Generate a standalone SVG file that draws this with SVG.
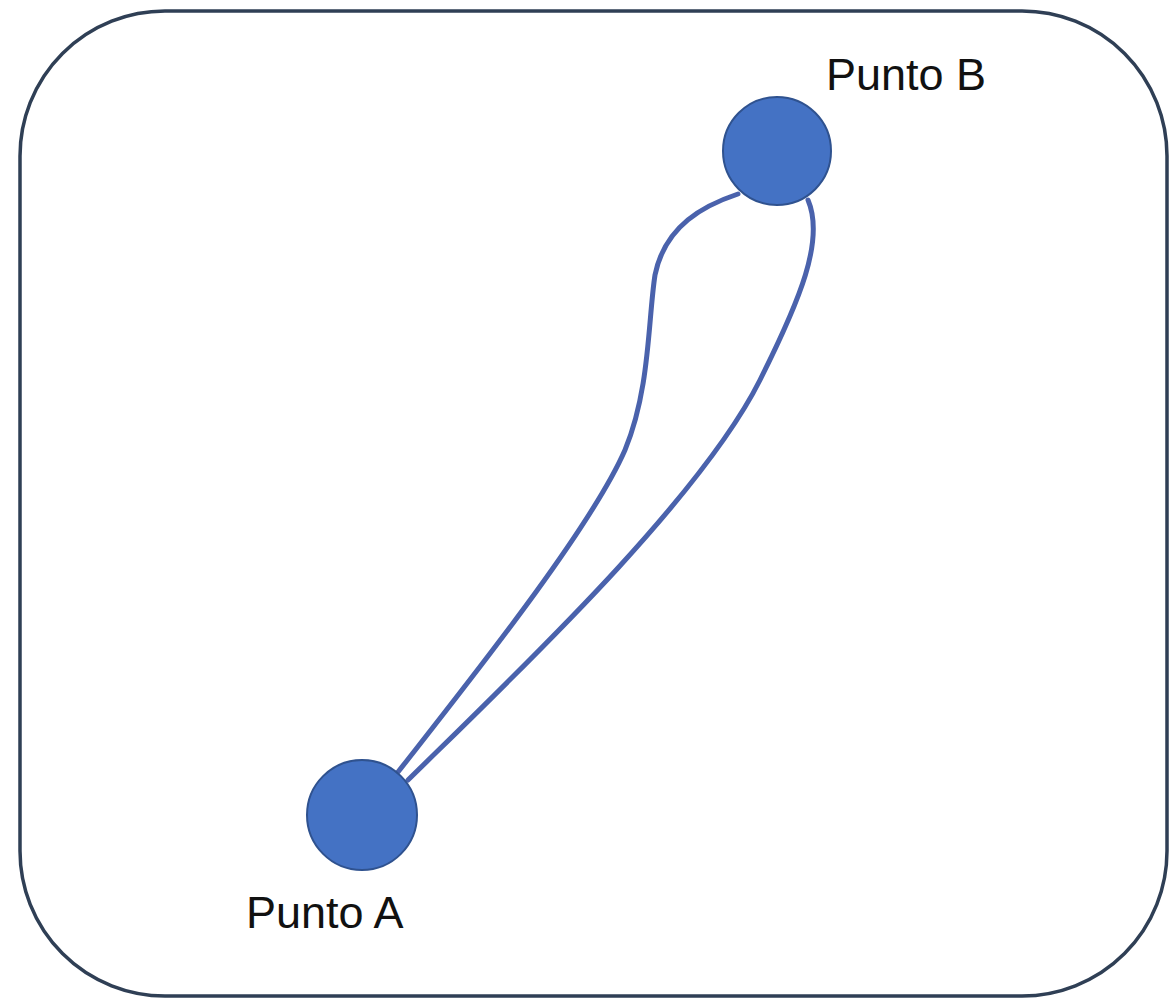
<svg xmlns="http://www.w3.org/2000/svg" width="1171" height="999" viewBox="0 0 1171 999">
  <style>
    .frame { fill: #ffffff; stroke: #2F3F55; stroke-width: 3.5; }
    .node { fill: #4472C4; stroke: #2F528F; stroke-width: 2; }
    .edge { fill: none; stroke: #4A62AC; stroke-width: 5; stroke-linecap: round; }
    .label { font-family: "Liberation Sans", Arial, sans-serif; font-size: 45px; fill: #111111; }
  </style>
  <rect width="1171" height="999" fill="#ffffff"/>
  <rect class="frame" x="20" y="11" width="1147" height="985" rx="145" ry="145"/>
  <g id="connectors">
    <path class="edge" d="M 398 772 C 470 680, 590 530, 625 450 C 650 390, 648 320, 655 275 C 665 225, 705 205, 738 194"/>
    <path class="edge" d="M 408 780 C 515 675, 700 500, 760 380 C 800 300, 825 240, 808 200"/>
  </g>
  <g id="punto-b">
    <circle class="node" cx="777" cy="151" r="54"/>
    <text class="label" x="826" y="90">Punto B</text>
  </g>
  <g id="punto-a">
    <circle class="node" cx="362" cy="815" r="55"/>
    <text class="label" x="246" y="928">Punto A</text>
  </g>
</svg>
